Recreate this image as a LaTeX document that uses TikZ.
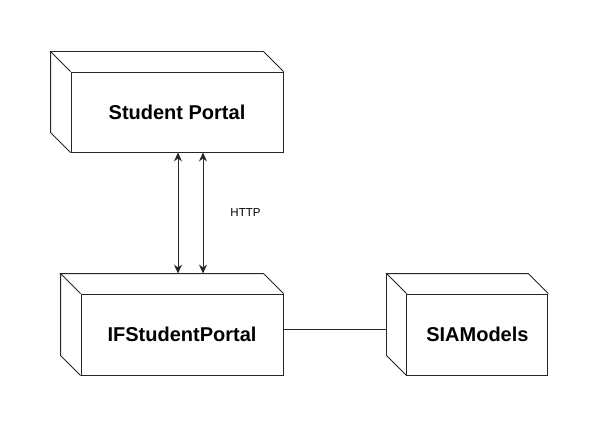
\documentclass[tikz,border=0pt]{standalone}
\usepackage{fontspec}
\setmainfont{Liberation Sans}
\usetikzlibrary{arrows.meta,positioning,calc}

\begin{document}
\begin{tikzpicture}[
  x=1pt, y=1pt,
  >={Stealth[length=9pt,width=8pt,inset=3pt]},
  edgeline/.style = {draw=black!85, line width=0.9pt},
  cube/.style     = {rectangle, edgeline, fill=white, inner sep=0pt,
                     font=\fontsize{20}{24}\selectfont\bfseries,
                     append after command={\pgfextra{
                       \draw[edgeline,line join=miter]
                         (\tikzlastnode.north west) -- ++(-20,20)
                         -- ([shift={(-20,20)}]\tikzlastnode.north east)
                         -- (\tikzlastnode.north east);
                       \draw[edgeline,line join=miter]
                         ([shift={(-20,20)}]\tikzlastnode.north west)
                         -- ([shift={(-20,20)}]\tikzlastnode.south west)
                         -- (\tikzlastnode.south west);}}},
  arr/.style      = {<->, edgeline},
  conn/.style     = {edgeline},
  lbl/.style      = {font=\fontsize{11.5}{13}\selectfont, inner sep=0pt}
]
\useasboundingbox (0,0) rectangle (603,432);

%%% ---- NODES ----
\node[cube, minimum width=212pt, minimum height=80pt] (sp)  at (177,320)  {Student Portal};
\node[cube, minimum width=202pt, minimum height=81pt] (ifp) at (182,97.5) {IFStudentPortal};
\node[cube, minimum width=141pt, minimum height=81pt,
      right=123pt of ifp]                              (sia)              {SIAModels};

%%% ---- CONNECTORS ----
\draw[arr] ($(sp.south)+(1,0)$)  -- ($(sp.south |- ifp.north)+(1,20)$);
\draw[arr] ($(sp.south)+(26,0)$) -- node[lbl, right=27pt] (http) {HTTP}
           ($(sp.south |- ifp.north)+(26,20)$);
\draw[conn] ([yshift=5pt]ifp.east) -- ($(sia.west)+(-20,5)$);
\end{tikzpicture}
\end{document}
